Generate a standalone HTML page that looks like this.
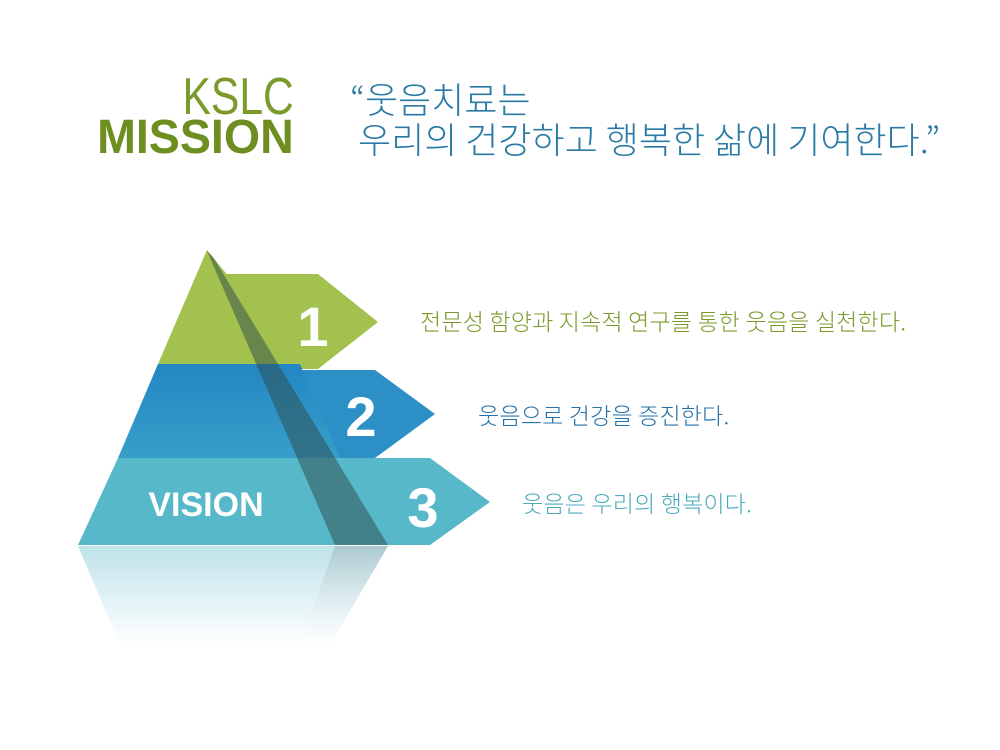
<!DOCTYPE html>
<html><head><meta charset="utf-8"><style>
body{margin:0;width:1000px;height:750px;background:#fff;overflow:hidden;position:relative;font-family:"Liberation Sans","Noto Sans CJK KR",sans-serif}
.t{position:absolute;white-space:nowrap}
.k{font-family:'Noto Sans CJK KR',sans-serif;font-weight:300;font-size:23px;letter-spacing:0.2px}
</style></head><body>
<div class="t" style="right:706px;top:70px;font-size:52px;color:#7a9a2a;line-height:54px;transform:scaleX(0.82);transform-origin:right">KSLC</div>
<div class="t" style="right:706px;top:113px;font-size:48px;color:#6f8e22;font-weight:bold;line-height:50px;transform:scaleX(0.97);transform-origin:right">MISSION</div>
<div class="t" style="left:350px;top:78px;font-size:36px;color:#2a7aa6;line-height:40px;font-family:'Noto Sans CJK KR',sans-serif;font-weight:300">“웃음치료는<br>&nbsp;우리의 건강하고 행복한 삶에 기여한다.”</div>
<svg width="1000" height="750" style="position:absolute;left:0;top:0">
<defs>
<linearGradient id="r" x1="0" y1="0" x2="0" y2="1"><stop offset="0" stop-color="#bfe3ea"/><stop offset="1" stop-color="#fff"/></linearGradient>
<linearGradient id="rd" x1="0" y1="0" x2="0" y2="1"><stop offset="0" stop-color="#9fb5bb"/><stop offset="1" stop-color="#fff" stop-opacity="0"/></linearGradient>
<linearGradient id="b2" x1="0" y1="0" x2="0" y2="1"><stop offset="0" stop-color="#2387c3"/><stop offset="1" stop-color="#379ec8"/></linearGradient>
</defs>
<polygon points="78,546 388,546 330,645 120,645" fill="url(#r)"/>
<polygon points="335,546 388,546 330,645 300,645" fill="url(#rd)" opacity="0.6"/>
<polygon points="225,274 318,274 378,322 318,369 225,369" fill="#a2c14f"/>
<polygon points="260,370 375,370 435,414 375,458 260,458" fill="#2c90c6"/>
<polygon points="300,458 430,458 490,502 430,545 300,545" fill="#56b8c8"/>
<polygon points="207,250 158,364 300,364" fill="#a2c14f"/>
<polygon points="158,364 118,458 340,458 300,364" fill="url(#b2)"/>
<polygon points="118,458 78,545 388,545 340,458" fill="#56b8c8"/>
<polygon points="207,251 213,257 388,545 335,545" fill="#2d4a4a" opacity="0.5"/>
<text x="313" y="346" font-size="56" font-weight="bold" fill="#fff" text-anchor="middle" font-family="Liberation Sans">1</text>
<text x="361" y="436" font-size="56" font-weight="bold" fill="#fff" text-anchor="middle" font-family="Liberation Sans">2</text>
<text x="423" y="527" font-size="56" font-weight="bold" fill="#fff" text-anchor="middle" font-family="Liberation Sans">3</text>
<text x="206" y="516" font-size="34" font-weight="bold" fill="#fff" text-anchor="middle" font-family="Liberation Sans">VISION</text>
</svg>
<div class="t k" style="left:420px;top:303px;color:#7a9a2a">전문성 함양과 지속적 연구를 통한 웃음을 실천한다.</div>
<div class="t k" style="left:478px;top:397px;color:#2470a8">웃음으로 건강을 증진한다.</div>
<div class="t k" style="left:522px;top:485px;color:#4aaabd">웃음은 우리의 행복이다.</div>
</body></html>
